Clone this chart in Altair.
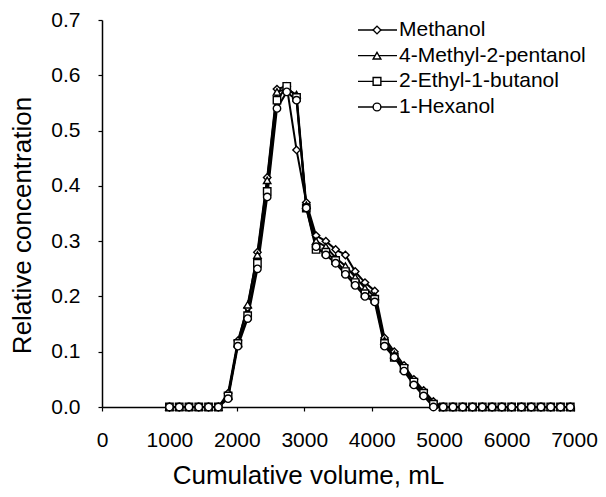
import altair as alt
import pandas as pd

series_names = ["Methanol", "4-Methyl-2-pentanol", "2-Ethyl-1-butanol", "1-Hexanol"]
legend_rank = [0, 1, 2, 3]

volume = [1000, 1145, 1290, 1435, 1580, 1725, 1870, 2015, 2160, 2305, 2450, 2595,
          2740, 2885, 3030, 3175, 3320, 3465, 3610, 3755, 3900, 4045, 4190, 4335,
          4480, 4625, 4770, 4915, 5060, 5205, 5350, 5495, 5640, 5785, 5930, 6075,
          6220, 6365, 6510, 6655, 6800, 6945]

methanol = [0, 0, 0, 0, 0, 0, 0.025, 0.12, 0.18, 0.28, 0.415, 0.575,
            0.58, 0.465, 0.37, 0.31, 0.30, 0.285, 0.275, 0.245, 0.225, 0.21, 0.125, 0.10,
            0.075, 0.05, 0.03, 0.01, 0, 0, 0, 0, 0, 0, 0, 0,
            0, 0, 0, 0, 0, 0]
methylpentanol = [0, 0, 0, 0, 0, 0, 0.02, 0.115, 0.185, 0.275, 0.41, 0.57,
                  0.575, 0.565, 0.365, 0.30, 0.29, 0.27, 0.255, 0.235, 0.215, 0.20, 0.12, 0.095,
                  0.07, 0.045, 0.025, 0.005, 0, 0, 0, 0, 0, 0, 0, 0,
                  0, 0, 0, 0, 0, 0]
ethylbutanol = [0, 0, 0, 0, 0, 0, 0.02, 0.115, 0.165, 0.26, 0.39, 0.555,
                0.58, 0.56, 0.36, 0.285, 0.28, 0.265, 0.245, 0.225, 0.205, 0.195, 0.115, 0.09,
                0.07, 0.045, 0.025, 0.005, 0, 0, 0, 0, 0, 0, 0, 0,
                0, 0, 0, 0, 0, 0]
hexanol = [0, 0, 0, 0, 0, 0, 0.015, 0.11, 0.16, 0.25, 0.38, 0.54,
           0.57, 0.555, 0.36, 0.29, 0.275, 0.26, 0.24, 0.22, 0.20, 0.19, 0.11, 0.09,
           0.065, 0.04, 0.02, 0.0, 0, 0, 0, 0, 0, 0, 0, 0,
           0, 0, 0, 0, 0, 0]

x_ticks = [0, 1000, 2000, 3000, 4000, 5000, 6000, 7000]
y_ticks = [0.0, 0.1, 0.2, 0.3, 0.4, 0.5, 0.6, 0.7]

rows = []
for name, vals in zip(series_names, [methanol, methylpentanol, ethylbutanol, hexanol]):
    for v, c in zip(volume, vals):
        rows.append({"series": name, "volume": v, "conc": c})
df = pd.DataFrame(rows)
legend_df = pd.DataFrame({"series": series_names, "rank": legend_rank})

FONT = "Liberation Sans"
shape_scale = alt.Scale(domain=series_names,
                        range=["diamond", "triangle-up", "square", "circle"])

x_enc = alt.X("volume:Q",
              scale=alt.Scale(domain=[0, 7000], nice=False, zero=False),
              axis=alt.Axis(values=x_ticks, format="d", title="Cumulative volume, mL",
                            labelPadding=18, labelFlush=False, titleX=206, titleY=68,
                            titleBaseline="middle", titleAlign="center"))
y_enc = alt.Y("conc:Q",
              scale=alt.Scale(domain=[0, 0.7], nice=False),
              axis=alt.Axis(values=y_ticks, format=".1f", title="Relative concentration",
                            labelPadding=18, labelFlush=False, titleX=-80, titleY=205,
                            titleBaseline="middle", titleAlign="center", titleAngle=-90))

base = alt.Chart(df)

lines = base.mark_line(color="black", strokeWidth=2).encode(
    x=x_enc, y=y_enc, detail="series:N"
)

points = base.mark_point(filled=True, fill="white", stroke="black", strokeWidth=1.4,
                         size=55, opacity=1).encode(
    x=x_enc, y=y_enc,
    shape=alt.Shape("series:N", scale=shape_scale, legend=None)
)

data_layer = alt.layer(lines, points)

# manual legend (line + marker + label), rows placed by a rank scale
leg_y = alt.Y("rank:Q", scale=alt.Scale(domain=[0, 3], range=[10, 87]), axis=None)
leg_base = alt.Chart(legend_df)
leg_lines = leg_base.mark_rule(color="black", strokeWidth=1.4).encode(
    x=alt.value(256), x2=alt.value(295), y=leg_y
)
leg_points = leg_base.mark_point(filled=True, fill="white", stroke="black",
                                 strokeWidth=1.4, size=60, opacity=1).encode(
    x=alt.value(275), y=leg_y,
    shape=alt.Shape("series:N", scale=shape_scale, legend=None)
)
leg_text = leg_base.mark_text(align="left", baseline="middle", font=FONT,
                              fontSize=21, color="black").encode(
    x=alt.value(297), y=leg_y, text="series:N"
)
legend_layer = alt.layer(leg_lines, leg_points, leg_text)

chart = alt.layer(data_layer, legend_layer).resolve_scale(y="independent").properties(
    width=472, height=387,
    autosize=alt.AutoSizeParams(type="none"),
    padding={"left": 94, "top": 12, "right": 24, "bottom": 82},
).configure_view(stroke=None).configure_axis(
    domainColor="black", domainWidth=1.5, tickColor="black", tickSize=4, tickWidth=1.2,
    grid=False, labelFont=FONT, labelFontSize=21, labelColor="black",
    titleFont=FONT, titleFontSize=26, titleFontWeight="normal", titleColor="black"
)

chart.save("out.html", embed_options={"renderer": "svg", "actions": False})
